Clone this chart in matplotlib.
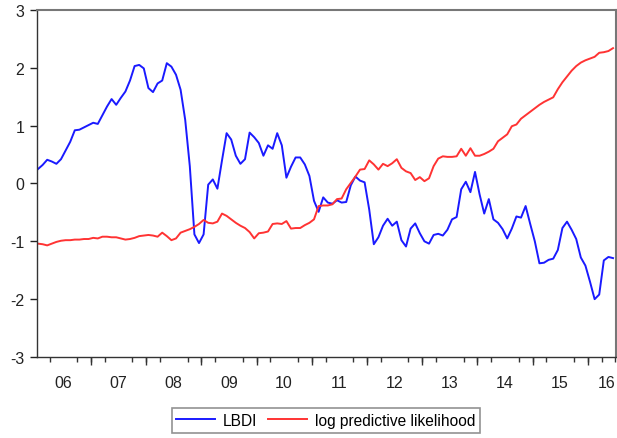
import matplotlib
matplotlib.use("Agg")
import matplotlib.pyplot as plt
import numpy as np

plt.rcParams['font.family'] = ['Liberation Sans', 'DejaVu Sans']

# Monthly observations 2006M01 .. 2016M06
lbdi = [0.25, 0.32, 0.41, 0.38, 0.34, 0.42, 0.57, 0.72, 0.92, 0.93,
        0.97, 1.01, 1.05, 1.03, 1.18, 1.33, 1.46, 1.36, 1.48, 1.59,
        1.78, 2.03, 2.05, 1.99, 1.65, 1.58, 1.73, 1.78, 2.08, 2.02,
        1.88, 1.62, 1.10, 0.30, -0.88, -1.03, -0.88, -0.02, 0.07, -0.09,
        0.40, 0.87, 0.76, 0.48, 0.34, 0.42, 0.88, 0.80, 0.70, 0.48,
        0.66, 0.60, 0.87, 0.66, 0.10, 0.29, 0.45, 0.45, 0.33, 0.13,
        -0.30, -0.49, -0.24, -0.33, -0.35, -0.29, -0.33, -0.32, -0.03, 0.12,
        0.05, 0.02, -0.45, -1.05, -0.93, -0.73, -0.61, -0.73, -0.66, -0.98,
        -1.09, -0.78, -0.69, -0.86, -1.00, -1.04, -0.89, -0.87, -0.90, -0.80,
        -0.62, -0.58, -0.10, 0.03, -0.15, 0.20, -0.19, -0.52, -0.27, -0.62,
        -0.68, -0.79, -0.95, -0.78, -0.57, -0.59, -0.39, -0.70, -1.00, -1.38,
        -1.37, -1.32, -1.30, -1.15, -0.77, -0.66, -0.80, -0.96, -1.28, -1.42,
        -1.70, -2.00, -1.92, -1.33, -1.27, -1.29]

log_pred_lik = [-1.04, -1.05, -1.07, -1.04, -1.01, -0.99, -0.98, -0.98, -0.97, -0.97,
                -0.96, -0.96, -0.94, -0.95, -0.92, -0.92, -0.93, -0.93, -0.95, -0.97,
                -0.96, -0.94, -0.91, -0.90, -0.89, -0.90, -0.92, -0.85, -0.91, -0.98,
                -0.95, -0.85, -0.82, -0.79, -0.75, -0.70, -0.63, -0.68, -0.69, -0.66,
                -0.52, -0.56, -0.62, -0.68, -0.73, -0.77, -0.84, -0.95, -0.86, -0.85,
                -0.83, -0.70, -0.69, -0.70, -0.65, -0.78, -0.77, -0.77, -0.72, -0.68,
                -0.62, -0.39, -0.38, -0.38, -0.36, -0.27, -0.26, -0.10, 0.01, 0.12,
                0.24, 0.25, 0.40, 0.33, 0.24, 0.34, 0.30, 0.35, 0.42, 0.27,
                0.21, 0.18, 0.06, 0.11, 0.04, 0.09, 0.30, 0.43, 0.47, 0.46,
                0.46, 0.47, 0.60, 0.48, 0.61, 0.48, 0.48, 0.51, 0.55, 0.60,
                0.73, 0.79, 0.85, 0.99, 1.02, 1.12, 1.18, 1.24, 1.30, 1.36,
                1.41, 1.45, 1.49, 1.63, 1.75, 1.85, 1.95, 2.03, 2.09, 2.13,
                2.16, 2.19, 2.26, 2.27, 2.29, 2.34]

year_labels = ["06", "07", "08", "09", "10", "11", "12", "13", "14", "15", "16"]
y_ticks = [3, 2, 1, 0, -1, -2, -3]

n = len(lbdi)
idx = np.arange(n)

fig = plt.figure(figsize=(6.17, 4.39), dpi=100)
ax = fig.add_axes([0.0595, 0.1845, 0.9389, 0.7905])

l1, = ax.plot(idx, lbdi, color='#1a1aff', lw=1.4)
l2, = ax.plot(idx, log_pred_lik, color='#ff3333', lw=1.4)

ax.set_ylim(-3, 3)
ax.set_xlim(-0.28, 125.65)
ax.set_yticks(y_ticks)
ax.set_yticklabels([str(v) for v in y_ticks])

# year labels centred in each year
label_pos = [5.5 + 12 * k for k in range(10)] + [123.7]
ax.set_xticks(label_pos)
ax.set_xticklabels(year_labels)
ax.tick_params(axis='x', length=0, pad=13, labelsize=11.5, colors='#222222')
ax.tick_params(axis='y', direction='out', length=5, width=1, pad=4,
               labelsize=11.5, colors='#222222')

# quarter ticks (minor) and year ticks (secondary axis)
quarters = [q for q in np.arange(-0.5, 126, 3) if -0.28 <= q <= 125.65]
ax.set_xticks(quarters, minor=True)
ax.tick_params(axis='x', which='minor', direction='out', length=3.5, width=1, color='#333333')
years = [11.5 + 12 * k for k in range(10)]
sec = ax.secondary_xaxis('bottom')
sec.set_xticks(years)
sec.tick_params(direction='out', length=6, width=1, labelbottom=False, color='#333333')
sec.spines['bottom'].set_visible(False)

for s in ['left', 'bottom']:
    ax.spines[s].set_color('#333333')
    ax.spines[s].set_linewidth(1.0)
for s in ['top', 'right']:
    ax.spines[s].set_color('#777777')
    ax.spines[s].set_linewidth(1.5)

leg = fig.legend([l1, l2], ["LBDI", "log predictive likelihood"],
                 loc='center', bbox_to_anchor=(0.528, 0.040), ncol=2,
                 fancybox=False, frameon=True, fontsize=11.2,
                 handlelength=2.5, columnspacing=0.7, handletextpad=0.5,
                 borderpad=0.3, borderaxespad=0)
leg.get_frame().set_edgecolor('#777777')
leg.get_frame().set_linewidth(1.2)

fig.savefig("out.png", dpi=100)
